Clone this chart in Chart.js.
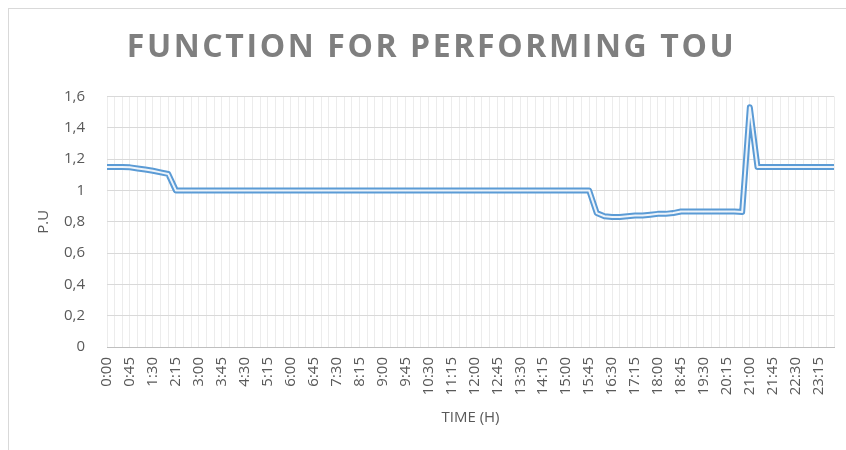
<!DOCTYPE html>
<html>
<head>
<meta charset="utf-8">
<script src="https://cdn.jsdelivr.net/npm/chart.js@4"></script>
<style>
  body { margin: 0; background: #fff; }
  #box { position: absolute; left: 8px; top: 8px; width: 838px; height: 442px; border-left: 1px solid #d9d9d9; border-top: 1px solid #d9d9d9; box-sizing: border-box; }
  canvas { display: block; }
</style>
</head>
<body>
<div id="box"><canvas id="linechart" width="837" height="441"></canvas></div>
<script>
let timeLabels = [
   "0:00","0:15","0:30","0:45","1:00","1:15","1:30","1:45","2:00","2:15","2:30","2:45",
   "3:00","3:15","3:30","3:45","4:00","4:15","4:30","4:45","5:00","5:15","5:30","5:45",
   "6:00","6:15","6:30","6:45","7:00","7:15","7:30","7:45","8:00","8:15","8:30","8:45",
   "9:00","9:15","9:30","9:45","10:00","10:15","10:30","10:45","11:00","11:15","11:30","11:45",
   "12:00","12:15","12:30","12:45","13:00","13:15","13:30","13:45","14:00","14:15","14:30","14:45",
   "15:00","15:15","15:30","15:45","16:00","16:15","16:30","16:45","17:00","17:15","17:30","17:45",
   "18:00","18:15","18:30","18:45","19:00","19:15","19:30","19:45","20:00","20:15","20:30","20:45",
   "21:00","21:15","21:30","21:45","22:00","22:15","22:30","22:45","23:00","23:15","23:30","23:45"
];

let puValues = [
   1.15, 1.15, 1.15, 1.147, 1.14, 1.133, 1.125, 1.115, 1.105,
   1.0, 1.0, 1.0, 1.0, 1.0, 1.0, 1.0, 1.0, 1.0, 1.0, 1.0,
   1.0, 1.0, 1.0, 1.0, 1.0, 1.0, 1.0, 1.0, 1.0, 1.0, 1.0,
   1.0, 1.0, 1.0, 1.0, 1.0, 1.0, 1.0, 1.0, 1.0, 1.0, 1.0,
   1.0, 1.0, 1.0, 1.0, 1.0, 1.0, 1.0, 1.0, 1.0, 1.0, 1.0,
   1.0, 1.0, 1.0, 1.0, 1.0, 1.0, 1.0, 1.0, 1.0, 1.0, 1.0,
   0.855, 0.835, 0.83, 0.83, 0.835, 0.84, 0.84, 0.845, 0.85, 0.85,
   0.855, 0.865, 0.865, 0.865, 0.865, 0.865, 0.865, 0.865, 0.865, 0.862,
   1.53,
   1.15, 1.15, 1.15, 1.15, 1.15, 1.15, 1.15, 1.15, 1.15, 1.15, 1.15
];

let yTicks = [0, 0.2, 0.4, 0.6, 0.8, 1, 1.2, 1.4, 1.6];

// spread the title letters like the excel one
const titleSpacing = {
   id: 'titleSpacing',
   afterLayout(chart) {
      let tb = chart.titleBlock;
      if (tb && !tb._spaced) {
         let orig = tb.draw.bind(tb);
         tb.draw = function() {
            chart.ctx.save();
            chart.ctx.letterSpacing = '2.6px';
            chart.ctx.translate(-1, 0);
            orig();
            chart.ctx.restore();
         };
         tb._spaced = true;
      }
   }
};

new Chart(document.getElementById("linechart"), {
   type: 'line',
   data: {
      labels: timeLabels,
      datasets: [
         {
            data: puValues,
            borderColor: "#eef4fa",
            borderWidth: 2,
            pointRadius: 0,
            borderJoinStyle: 'round',
            fill: false,
            order: 0
         },
         {
            data: puValues,
            borderColor: "#5b9bd5",
            borderWidth: 6,
            pointRadius: 0,
            borderJoinStyle: 'round',
            fill: false,
            order: 1
         }
      ]
   },
   options: {
      responsive: false,
      animation: false,
      layout: { padding: { left: 22, right: 12, top: 0, bottom: 19 } },
      plugins: {
         legend: { display: false },
         tooltip: { enabled: false },
         title: {
            display: true,
            text: 'FUNCTION FOR PERFORMING TOU',
            color: '#7f7f7f',
            font: { family: 'Open Sans', size: 32, weight: 'bold' },
            padding: { top: 20, bottom: 29 }
         }
      },
      scales: {
         x: {
            offset: false,
            grid: { color: '#ececec', drawTicks: false },
            border: { color: '#bfbfbf' },
            ticks: {
               autoSkip: false,
               minRotation: 90,
               maxRotation: 90,
               padding: 10,
               color: '#595959',
               font: { family: 'Open Sans', size: 15 },
               callback: function(v, i) { return i % 3 === 0 ? timeLabels[i] : ''; }
            },
            title: {
               display: true,
               text: 'TIME (H)',
               color: '#595959',
               font: { family: 'Open Sans', size: 15 },
               padding: { top: 4, bottom: 4 }
            },
            afterFit: function(scale) {
               scale.height = 84;
               scale.paddingLeft = 0;
               scale.paddingRight = 0;
            }
         },
         y: {
            min: 0,
            max: 1.6,
            afterBuildTicks: function(scale) { scale.ticks = yTicks.map(v => ({ value: v })); },
            grid: { color: '#d9d9d9', drawTicks: false },
            border: { display: false },
            ticks: {
               padding: 22,
               color: '#595959',
               font: { family: 'Open Sans', size: 15 },
               callback: function(v) { return Number(v.toFixed(1)).toString().replace('.', ','); }
            },
            title: {
               display: true,
               text: 'P.U',
               color: '#595959',
               font: { family: 'Open Sans', size: 15 },
               padding: 4
            },
            afterFit: function(scale) { scale.width = 76; }
         }
      }
   },
   plugins: [titleSpacing]
});
</script>
</body>
</html>
